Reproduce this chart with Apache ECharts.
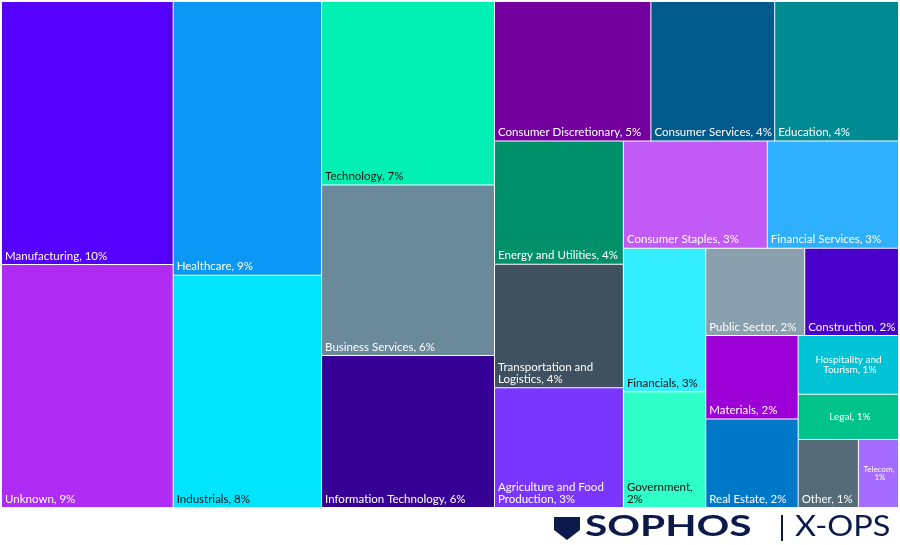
<!DOCTYPE html>
<html>
<head>
<meta charset="utf-8">
<script src="https://cdn.jsdelivr.net/npm/echarts@6/dist/echarts.min.js"></script>
<style>html,body{margin:0;padding:0;background:#fff}#main{width:900px;height:545px}</style>
</head>
<body>
<div id="main"></div>
<script>
// sectors, relative area and the rounded share shown in each label
var sectors = ['Manufacturing', 'Unknown', 'Healthcare', 'Industrials', 'Technology', 'Business Services',
    'Information Technology', 'Consumer Discretionary', 'Consumer Services', 'Education', 'Energy and Utilities',
    'Transportation and Logistics', 'Agriculture and Food Production', 'Consumer Staples', 'Financial Services',
    'Financials', 'Government', 'Public Sector', 'Construction', 'Materials', 'Real Estate',
    'Hospitality and Tourism', 'Legal', 'Other', 'Telecom'];
var values = [9.96, 9.2, 8.96, 7.6, 7.0, 6.5, 5.8, 4.8, 3.8, 3.8, 3.5, 3.5, 3.4, 3.4, 3.1,
    2.6, 2.1, 1.9, 1.8, 1.7, 1.8, 1.3, 1.0, 0.9, 0.6];
var shares = [10, 9, 9, 8, 7, 6, 6, 5, 4, 4, 4, 4, 3, 3, 3, 3, 2, 2, 2, 2, 2, 1, 1, 1, 1];
var colors = ['#5500ff', '#b02cf5', '#0a97f5', '#00e5ff', '#00f0b4', '#6a8a9c', '#360096', '#73009e',
    '#005a8c', '#008a91', '#00916b', '#3f515e', '#7a36ff', '#c25af5', '#2eb0ff', '#33eeff', '#2effc8',
    '#8aa0ae', '#4a00cc', '#9c00d6', '#0078c8', '#00c4d6', '#00c389', '#566b78', '#a66bff'];
var darkText = ['Industrials', 'Technology', 'Financials', 'Government'];
var centered = ['Hospitality and Tourism', 'Legal', 'Telecom'];
// grouping of sector indices so the tiles fall into columns like the original
var leftGroups = [[0, 1], [[2, 3], [4, 5, 6]]];
var rightGroups = [[7, 8, 9], [[10, 11, 12], [[13, 14], [[15, 16], [[17, 18], [[19, 20], [[21, 22], [23, 24]]]]]]]];

function leaf(i) {
    var name = sectors[i];
    var c = centered.indexOf(name) >= 0;
    return {
        name: name,
        value: values[i],
        share: shares[i],
        itemStyle: { color: colors[i] },
        label: {
            show: true,
            color: darkText.indexOf(name) >= 0 ? '#111' : '#fff',
            position: c ? 'inside' : 'insideBottomLeft',
            align: c ? 'center' : 'left',
            fontSize: name === 'Telecom' ? 8 : (c ? 10 : 11.5)
        }
    };
}
function build(g) {
    if (typeof g === 'number') return leaf(g);
    var kids = g.map(build);
    var sum = kids.reduce(function (s, k) { return s + k.value; }, 0);
    return { name: '', value: sum, children: kids, label: { show: false } };
}
function sumOf(g) {
    return typeof g === 'number' ? values[g] : g.reduce(function (s, k) { return s + sumOf(k); }, 0);
}

var leftWidth = Math.round(896 * sumOf(leftGroups) / (sumOf(leftGroups) + sumOf(rightGroups)));

function tree(groups, box, ratio) {
    return {
        type: 'treemap',
        left: box.left, top: 2, width: box.width, bottom: 38,
        roam: false,
        nodeClick: false,
        sort: false,
        squareRatio: ratio,
        breadcrumb: { show: false },
        animation: false,
        itemStyle: { borderColor: '#fff', borderWidth: 0, gapWidth: 1 },
        label: {
            fontFamily: 'Lato',
            overflow: 'break',
            padding: [0, 0, 2, 3],
            formatter: function (p) { return p.name + ', ' + p.data.share + '%'; }
        },
        data: groups.map(build)
    };
}

var myChart = echarts.init(document.getElementById('main'));

var option = {
    series: [
        tree(leftGroups, { left: 2, width: leftWidth - 1 }, 0.5 * (1 + Math.sqrt(5))),
        tree(rightGroups, { left: 2 + leftWidth, width: 896 - leftWidth }, 0.5)
    ],
    graphic: [{
        type: 'polygon',
        shape: { points: [[554, 517], [580, 517], [580, 530], [567, 540], [554, 530]] },
        style: { fill: '#0b1a4a' }
    }, {
        type: 'text', x: 585, y: 512, scaleX: 1.4,
        style: { text: 'SOPHOS', font: 'bold 29px Lato', fill: '#0b1a4a' }
    }, {
        type: 'rect', left: 781, top: 515, shape: { width: 2, height: 26 }, style: { fill: '#0b1a4a' }
    }, {
        type: 'text', x: 795, y: 512, scaleX: 1.12,
        style: { text: 'X-OPS', font: '29px Lato', fill: '#0b1a4a' }
    }]
};

myChart.setOption(option);
</script>
</body>
</html>
